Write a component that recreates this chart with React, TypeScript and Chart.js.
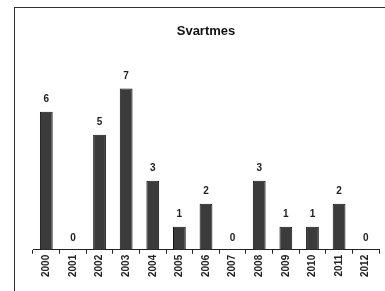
import React, { useEffect, useRef } from "react";
import { Chart, registerables } from "chart.js";

Chart.register(...registerables);

const years = ["2000", "2001", "2002", "2003", "2004", "2005", "2006", "2007", "2008", "2009", "2010", "2011", "2012"];
const counts = [6, 0, 5, 7, 3, 1, 2, 0, 3, 1, 1, 2, 0];
const chartTitle = "Svartmes";

const valueLabels = {
  id: "valueLabels",
  afterDatasetsDraw(chart: any) {
    const ctx = chart.ctx;
    const meta = chart.getDatasetMeta(0);
    ctx.save();
    ctx.font = "bold 10px 'Liberation Sans', Arial, sans-serif";
    ctx.fillStyle = "#222";
    ctx.textAlign = "center";
    ctx.textBaseline = "middle";
    meta.data.forEach((bar: any, i: number) => {
      ctx.fillText(String(counts[i]), bar.x, bar.y - 12);
    });
    ctx.restore();
  },
};

export default function App() {
  const ref = useRef<HTMLCanvasElement>(null);
  useEffect(() => {
    if (!ref.current) return;
    const chart = new Chart(ref.current, {
      type: "bar",
      data: {
        labels: years,
        datasets: [
          {
            data: counts,
            backgroundColor: "#3b3b3b",
            borderColor: "#111",
            borderWidth: 1,
            barPercentage: 0.48,
            categoryPercentage: 1,
          },
        ],
      },
      options: {
        animation: false,
        responsive: false,
        maintainAspectRatio: false,
        layout: { padding: { left: 33, right: 6, top: 0, bottom: 13 } },
        plugins: {
          legend: { display: false },
          tooltip: { enabled: false },
          title: {
            display: true,
            text: chartTitle,
            color: "#111",
            font: { family: "'Liberation Sans', Arial, sans-serif", size: 13, weight: "bold" },
            padding: { top: 24, bottom: 26 },
          },
        },
        scales: {
          x: {
            offset: true,
            grid: { offset: true, drawOnChartArea: false, tickLength: 4, color: "#222" },
            border: { display: true, color: "#222", width: 1 },
            ticks: {
              minRotation: 90,
              maxRotation: 90,
              padding: 1,
              color: "#222",
              font: { family: "'Liberation Sans', Arial, sans-serif", size: 10, weight: "bold" },
            },
          },
          y: { display: false, min: 0, max: 8 },
        },
      },
      plugins: [valueLabels],
    });
    return () => chart.destroy();
  }, []);
  return (
    <div style={{ position: "fixed", left: 0, top: 0, width: 385, height: 291, background: "#fff" }}>
      <div
        style={{
          position: "absolute",
          left: 14,
          top: 7,
          width: 385,
          height: 300,
          borderLeft: "1px solid #333",
          borderTop: "1px solid #333",
        }}
      />
      <canvas ref={ref} width={385} height={291} style={{ position: "absolute", left: 0, top: 0 }} />
    </div>
  );
}
